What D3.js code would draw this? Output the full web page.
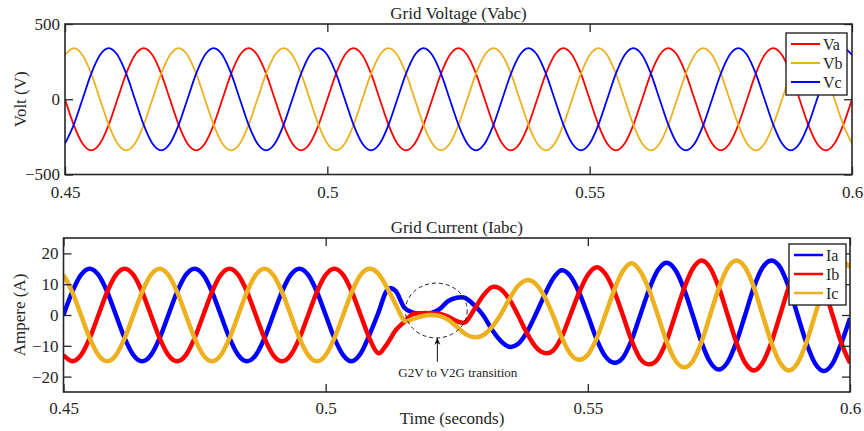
<!DOCTYPE html>
<html lang="en">
<head>
<meta charset="utf-8">
<style>
  body { margin: 0; background: white; }
  svg text { font-family: "Liberation Serif", "Times New Roman", serif; }
  .tick line { stroke: #262626; stroke-width: 1.3; }
</style>
<title></title>
</head>
<body>
<script src="https://cdnjs.cloudflare.com/ajax/libs/d3/7.8.5/d3.min.js"></script>
<script>

// samples every 1/600 s (30 electrical degrees at 50 Hz), from 0.45 s to 0.6 s
var t0 = 0.45, dt = 1 / 600;

var xTicks = [0.45, 0.5, 0.55, 0.6];
var vTicks = [-500, 0, 500];
var iTicks = [-20, -10, 0, 10, 20];

// grid voltage (V)
var va = [
  0,-170,-294,-340,-294,-170,0,170,294,340,294,170,
  0,-170,-294,-340,-294,-170,0,170,294,340,294,170,
  0,-170,-294,-340,-294,-170,0,170,294,340,294,170,
  0,-170,-294,-340,-294,-170,0,170,294,340,294,170,
  0,-170,-294,-340,-294,-170,0,170,294,340,294,170,
  0,-170,-294,-340,-294,-170,0,170,294,340,294,170,
  0,-170,-294,-340,-294,-170,0,170,294,340,294,170,
  0,-170,-294,-340,-294,-170,0];
var vb = [
  294,340,294,170,0,-170,-294,-340,-294,-170,0,170,
  294,340,294,170,0,-170,-294,-340,-294,-170,0,170,
  294,340,294,170,0,-170,-294,-340,-294,-170,0,170,
  294,340,294,170,0,-170,-294,-340,-294,-170,0,170,
  294,340,294,170,0,-170,-294,-340,-294,-170,0,170,
  294,340,294,170,0,-170,-294,-340,-294,-170,0,170,
  294,340,294,170,0,-170,-294,-340,-294,-170,0,170,
  294,340,294,170,0,-170,-294];
var vc = [
  -294,-170,0,170,294,340,294,170,0,-170,-294,-340,
  -294,-170,0,170,294,340,294,170,0,-170,-294,-340,
  -294,-170,0,170,294,340,294,170,0,-170,-294,-340,
  -294,-170,0,170,294,340,294,170,0,-170,-294,-340,
  -294,-170,0,170,294,340,294,170,0,-170,-294,-340,
  -294,-170,0,170,294,340,294,170,0,-170,-294,-340,
  -294,-170,0,170,294,340,294,170,0,-170,-294,-340,
  -294,-170,0,170,294,340,294];

// grid current (A)
var ia = [
  0,7.5,13,15,13,7.5,0,-7.5,-13,-15,-13,-7.5,
  0,7.5,13,15,13,7.5,0,-7.5,-13,-15,-13,-7.5,
  0,7.5,13,15,13,7.5,0,-7.5,-13,-15,-12.5,-6.5,
  0.5,8.0,7.8,2.4,0.8,0.5,0.6,1.8,4.5,5.6,5.5,3.2,
  0,-4.6,-8.3,-10.3,-9.4,-5.7,0,6.2,11.7,14.5,12.6,7.3,
  0,-7.8,-13.4,-15.5,-13.9,-8.2,0,8.2,14.5,17,14.7,8.5,
  0,-8.8,-15.3,-17.7,-15.3,-8.8,0,9,15.4,17.7,15.5,9,
  0,-9,-15.7,-18.2,-15.8,-9.2,-1];
var ib = [
  -13,-15,-13,-7.5,0,7.5,13,15,13,7.5,0,-7.5,
  -13,-15,-13,-7.5,0,7.5,13,15,13,7.5,0,-7.5,
  -13,-15,-13,-7.5,0,7.5,13,15,13,7.5,0,-7.5,
  -12.4,-9.5,-5,-2.2,0.3,0.6,0.6,0.4,-0.5,-2.0,-2.3,1.8,
  6.2,9,8.5,5.2,0,-5.7,-10.2,-12.3,-11.6,-7.2,0,7.3,
  13,15.5,13.4,7.8,0,-8.2,-14.2,-16,-14.3,-8.5,0,8.5,
  15,17.7,15.3,8.8,0,-8.9,-15.5,-18,-15.5,-8.9,0,9,
  15.6,18,15.6,9.1,0,-9,-15.6];
var ic = [
  13,7.5,0,-7.5,-13,-15,-13,-7.5,0,7.5,13,15,
  13,7.5,0,-7.5,-13,-15,-13,-7.5,0,7.5,13,15,
  13,7.5,0,-7.5,-13,-15,-13,-7.5,0,7.5,13,15,
  13.5,9,3.5,-1.8,-1.2,-0.4,0,-0.3,-1.5,-3.8,-6.2,-7.2,
  -6.6,-4,0,5.1,9.4,11.3,10.2,6.2,0,-7.2,-12.6,-14.5,
  -12.9,-7.7,0,8,14.2,16.8,14.2,8.2,0,-8.5,-14.7,-17,
  -15,-8.8,0,8.8,15.3,17.7,15.4,9,0,-8.9,-15.5,-18,
  -15.6,-9,0,9.1,15.5,17.5,15.5];

var RED = "#ff0000", YEL = "#edb120", BLUE = "#0000ff", INK = "#262626";
var SERIF = "'Liberation Serif', 'Times New Roman', serif";

var svg = d3.select("body").append("svg")
    .attr("width", 864)
    .attr("height", 431);

var defs = svg.append("defs");
defs.append("marker")
    .attr("id", "head")
    .attr("viewBox", "-8 -4 9 8")
    .attr("refX", 0).attr("refY", 0)
    .attr("markerWidth", 9).attr("markerHeight", 8)
    .attr("markerUnits", "userSpaceOnUse")
    .attr("orient", "auto")
  .append("path")
    .attr("d", "M0,0L-7,-3L-5,0L-7,3Z")
    .attr("fill", "#111");

function panel(p) {
  var x = d3.scaleLinear().domain([0.45, 0.6]).range([p.left, p.right]);
  var y = d3.scaleLinear().domain(p.domain).range([p.bottom, p.top]);
  var g = svg.append("g");

  defs.append("clipPath").attr("id", p.id)
    .append("rect")
      .attr("x", p.left).attr("y", p.top)
      .attr("width", p.right - p.left).attr("height", p.bottom - p.top);

  var line = d3.line()
      .x(function(d, i) { return x(t0 + i * dt); })
      .y(function(d) { return y(d); })
      .curve(d3.curveCardinal.tension(0));

  var lines = g.append("g").attr("clip-path", "url(#" + p.id + ")");
  p.series.forEach(function(s) {
    lines.append("path")
        .attr("d", line(s.values))
        .attr("fill", "none")
        .attr("stroke", s.color)
        .attr("stroke-width", p.lw)
        .attr("stroke-linejoin", "round");
  });

  // axes with inward ticks on all four sides
  var ax = g.append("g");
  ax.append("g").attr("transform", "translate(" + p.left + ",0)")
      .call(d3.axisLeft(y).tickValues(p.yTicks).tickSize(-8).tickPadding(5));
  ax.append("g").attr("transform", "translate(" + p.right + ",0)")
      .call(d3.axisRight(y).tickValues(p.yTicks).tickSize(-8).tickFormat(""));
  ax.append("g").attr("transform", "translate(0," + p.bottom + ")")
      .call(d3.axisBottom(x).tickValues(xTicks).tickSize(-8).tickPadding(p.xPad)
      .tickFormat(d3.format("")));
  ax.append("g").attr("transform", "translate(0," + p.top + ")")
      .call(d3.axisTop(x).tickValues(xTicks).tickSize(-8).tickFormat(""));
  ax.selectAll(".domain").remove();
  ax.selectAll(".tick text")
      .style("font-family", SERIF)
      .style("font-size", "17px")
      .style("fill", INK);

  g.append("rect")
      .attr("x", p.left).attr("y", p.top)
      .attr("width", p.right - p.left).attr("height", p.bottom - p.top)
      .attr("fill", "none").attr("stroke", INK).attr("stroke-width", 1.6);

  g.append("text")
      .attr("x", (p.left + p.right) / 2).attr("y", p.titleY)
      .attr("text-anchor", "middle").attr("font-size", 17).attr("fill", INK)
      .text(p.title);

  g.append("text")
      .attr("transform", "translate(" + p.ylabX + "," + (p.top + p.bottom) / 2 + ") rotate(-90)")
      .attr("text-anchor", "middle").attr("font-size", 17).attr("fill", INK)
      .text(p.ylabel);

  // legend
  var L = p.legend;
  var lg = g.append("g");
  lg.append("rect")
      .attr("x", L.x).attr("y", L.y).attr("width", L.w).attr("height", L.h)
      .attr("fill", "white").attr("stroke", INK).attr("stroke-width", 1.4);
  p.series.forEach(function(s, i) {
    var cy = L.y + L.first + i * L.step;
    lg.append("line")
        .attr("x1", L.x + 5).attr("x2", L.x + 34).attr("y1", cy).attr("y2", cy)
        .attr("stroke", s.color).attr("stroke-width", L.lw);
    lg.append("text")
        .attr("x", L.x + 37).attr("y", cy + 5.5)
        .attr("font-size", 16).attr("fill", INK)
        .text(s.name);
  });

  return {x: x, y: y, g: g};
}

panel({
  id: "clipV", left: 65, right: 852, top: 24, bottom: 174.5,
  domain: [-500, 500], yTicks: vTicks, xPad: 11, lw: 1.8,
  title: "Grid Voltage (Vabc)", titleY: 19,
  ylabel: "Volt (V)", ylabX: 26,
  series: [
    {name: "Va", values: va, color: RED},
    {name: "Vb", values: vb, color: YEL},
    {name: "Vc", values: vc, color: BLUE}],
  legend: {x: 786, y: 33, w: 61, h: 62, first: 11, step: 19, lw: 2}
});

var bot = panel({
  id: "clipI", left: 63.5, right: 850, top: 238, bottom: 392,
  domain: [-25, 25], yTicks: iTicks, xPad: 10, lw: 4.5,
  title: "Grid Current (Iabc)", titleY: 233,
  ylabel: "Ampere (A)", ylabX: 25,
  series: [
    {name: "Ia", values: ia, color: BLUE},
    {name: "Ib", values: ib, color: RED},
    {name: "Ic", values: ic, color: YEL}],
  legend: {x: 789, y: 244, w: 57, h: 61, first: 11, step: 19, lw: 2.5}
});

// transition annotation
var bx = bot.x, by = bot.y;
bot.g.append("ellipse")
    .attr("cx", bx(0.5211)).attr("cy", by(1.45))
    .attr("rx", bx(0.5211 + 0.0059) - bx(0.5211))
    .attr("ry", by(0) - by(8.9))
    .attr("fill", "none").attr("stroke", "#222")
    .attr("stroke-width", 1).attr("stroke-dasharray", "4,3");

bot.g.append("line")
    .attr("x1", bx(0.5213)).attr("x2", bx(0.5213))
    .attr("y1", by(-15.2)).attr("y2", by(-7.4))
    .attr("stroke", "#111").attr("stroke-width", 1)
    .attr("marker-end", "url(#head)");

bot.g.append("text")
    .attr("x", bx(0.5252)).attr("y", by(-20))
    .attr("text-anchor", "middle").attr("font-size", 13).attr("fill", "#222")
    .text("G2V to V2G transition");

svg.append("text")
    .attr("x", 452).attr("y", 424)
    .attr("text-anchor", "middle").attr("font-size", 17).attr("fill", INK)
    .text("Time (seconds)");

</script>
</body>
</html>
